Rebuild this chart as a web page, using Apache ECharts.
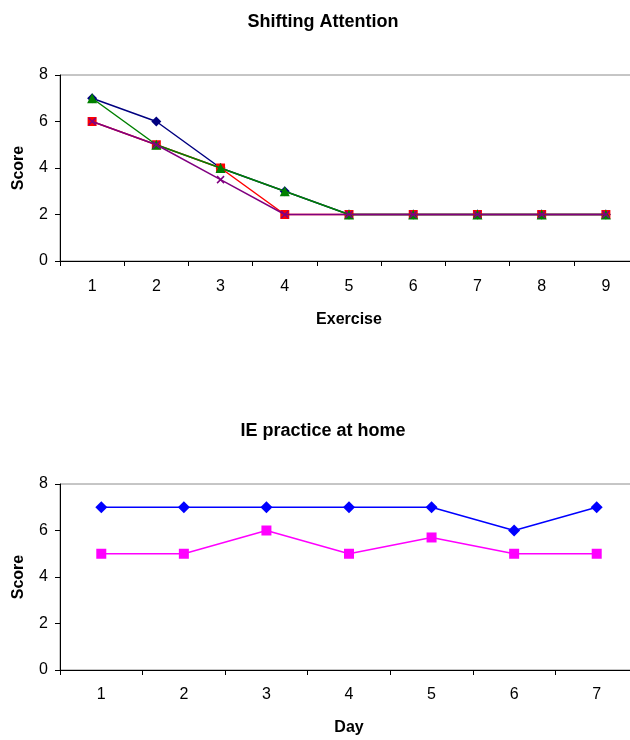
<!DOCTYPE html>
<html>
<head>
<meta charset="utf-8">
<script src="https://cdn.jsdelivr.net/npm/echarts@6/dist/echarts.min.js"></script>
<style>
html,body{margin:0;padding:0;background:#fff;overflow:hidden;}
#chart{width:660px;height:740px;}
</style>
</head>
<body>
<div id="chart"></div>
<script>
// Chart 1: Shifting Attention
const exercises = ['1','2','3','4','5','6','7','8','9'];
const seriesNavy   = [7, 6, 4, 3, 2, 2, 2, 2, 2];
const seriesRed    = [6, 5, 4, 2, 2, 2, 2, 2, 2];
const seriesGreen  = [7, 5, 4, 3, 2, 2, 2, 2, 2];
const seriesPurple = [6, 5, 3.5, 2, 2, 2, 2, 2, 2];

// Chart 2: IE practice at home
const days = ['1','2','3','4','5','6','7'];
const seriesBlue    = [7, 7, 7, 7, 7, 6, 7];
const seriesMagenta = [5, 5, 6, 5, 5.7, 5, 5];

const FONT = '"Liberation Sans", Arial, sans-serif';

const chart = echarts.init(document.getElementById('chart'), null, {renderer: 'canvas'});

function xAx(gridIndex, data, name, nameGap, margin) {
  return {
    type: 'category', gridIndex, data, boundaryGap: true,
    name, nameLocation: 'middle', nameGap,
    nameTextStyle: {fontFamily: FONT, fontWeight: 'bold', fontSize: 16, color: '#000'},
    axisLine: {lineStyle: {color: '#000', width: 1}},
    axisTick: {show: true, interval: 0, length: 5, lineStyle: {color: '#000'}},
    axisLabel: {fontFamily: FONT, fontSize: 16, color: '#000', margin},
    splitLine: {show: false}
  };
}
function yAx(gridIndex) {
  return {
    type: 'value', gridIndex, min: 0, max: 8, interval: 2,
    name: 'Score', nameLocation: 'middle', nameGap: 33, nameRotate: 90,
    nameTextStyle: {fontFamily: FONT, fontWeight: 'bold', fontSize: 16, color: '#000'},
    axisLine: {show: true, lineStyle: {color: '#000', width: 1}},
    axisTick: {show: true, length: 5, lineStyle: {color: '#000'}},
    axisLabel: {fontFamily: FONT, fontSize: 16, color: '#000', margin: 12},
    splitLine: {show: false}
  };
}
function line(name, data, xi, color, symbol, size, z) {
  return {
    name, type: 'line', data, xAxisIndex: xi, yAxisIndex: xi,
    color, symbol, symbolSize: size, z,
    lineStyle: {color, width: 1.5},
    itemStyle: {color, borderWidth: 0},
    animation: false
  };
}

chart.setOption({
  animation: false,
  backgroundColor: '#fff',
  title: [
    {text: 'Shifting Attention', left: 318, top: 8, textAlign: 'center',
     textStyle: {fontFamily: FONT, fontWeight: 'bold', fontSize: 18, color: '#000'}},
    {text: 'IE practice at home', left: 318, top: 417, textAlign: 'center',
     textStyle: {fontFamily: FONT, fontWeight: 'bold', fontSize: 18, color: '#000'}}
  ],
  grid: [
    {left: 60, top: 75, width: 578, height: 186, show: true, borderColor: '#8c8c8c', borderWidth: 1, backgroundColor: 'transparent'},
    {left: 60, top: 484, width: 578, height: 186, show: true, borderColor: '#8c8c8c', borderWidth: 1, backgroundColor: 'transparent'}
  ],
  xAxis: [xAx(0, exercises, 'Exercise', 51, 18), xAx(1, days, 'Day', 50, 17)],
  yAxis: [yAx(0), yAx(1)],
  series: [
    line('Navy', seriesNavy, 0, '#000080', 'diamond', 10, 2),
    line('Red', seriesRed, 0, '#FF0000', 'rect', 9, 3),
    line('Green', seriesGreen, 0, '#008000', 'triangle', 10, 4),
    {
      name: 'Purple', type: 'line', data: seriesPurple, xAxisIndex: 0, yAxisIndex: 0,
      color: '#800080', symbol: 'path://M0,0L10,10M10,0L0,10', symbolSize: 7, z: 5,
      lineStyle: {color: '#800080', width: 1.5},
      itemStyle: {color: 'none', borderColor: '#800080', borderWidth: 1.5}
    },
    line('Blue', seriesBlue, 1, '#0000FF', 'diamond', 12, 2),
    line('Magenta', seriesMagenta, 1, '#FF00FF', 'rect', 10, 3)
  ]
});
</script>
</body>
</html>
